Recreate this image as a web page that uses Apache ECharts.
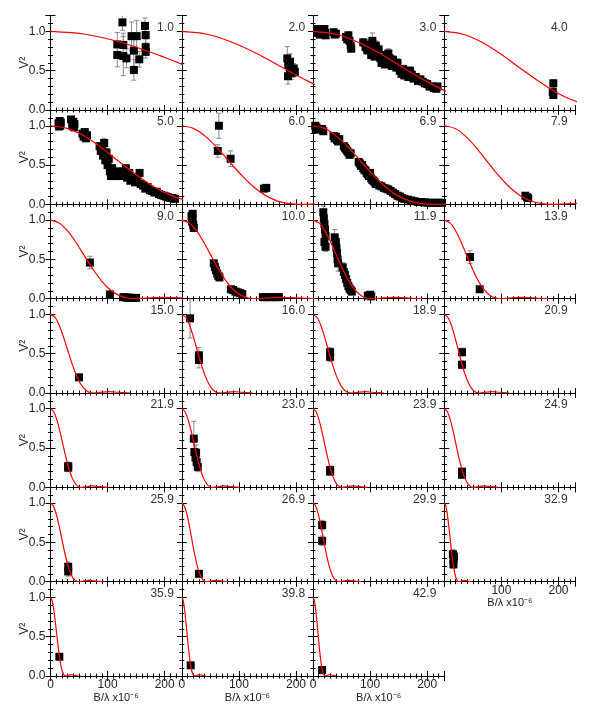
<!DOCTYPE html>
<html><head><meta charset="utf-8">
<script src="https://cdn.jsdelivr.net/npm/echarts@6/dist/echarts.min.js"></script>
<style>html,body{margin:0;padding:0;background:#fff}#c{width:591px;height:709px}</style>
</head><body><div id="c"></div>
<script>
const panelLabels = ['1.0','2.0','3.0','4.0','5.0','6.0','6.9','7.9','9.0','10.0','11.9','13.9','15.0','16.0','18.9','20.9','21.9','23.0','23.9','24.9','25.9','26.9','29.9','32.9','35.9','39.8','42.9'];
const xTicks = [0, 100, 200];
const yTicks = [0.0, 0.5, 1.0];

// model curve: V^2 levels and the B/lambda positions (read per panel) where the curve passes them
const curveLevels = [1, 0.964, 0.862, 0.712, 0.538, 0.368, 0.221, 0.111, 0.042, 0.0085, 0, 0.0102, 0.0175, 0.0097, 0];
const curveX = [
  [0,61,123,184,245],
  [0,44,88,133,177,221,265],
  [0,40,79,119,158,198,238],
  [0,33,66,99,132,165,197,230,263],
  [0,30,61,91,121,152,182,212,242],
  [0,21,42,63,84,105,126,147,168,189,210,246],
  [0,21,42,64,85,106,127,148,170,191,212,248],
  [0,19,38,57,76,95,114,133,152,171,190,222,255],
  [0,15,30,45,60,75,90,105,120,135,150,176,201,233],
  [0,13,26,39,52,65,78,91,104,117,130,152,174,202,238],
  [0,10.5,21,31.5,42,52.5,63,73.5,84,94.5,105,123,141,163,192],
  [0,10,20,30,40,50,60,70,80,90,100,117,134,155,183],
  [0,7.6,15.2,22.8,30.4,38,45.6,53.2,60.8,68.4,76,89,102,118,139],
  [0,6.8,13.6,20.4,27.2,34,40.8,47.6,54.4,61.2,68,79.6,91,105,124],
  [0,6.8,13.6,20.4,27.2,34,40.8,47.6,54.4,61.2,68,79.6,91,105,124],
  [0,6.2,12.4,18.6,24.8,31,37.2,43.4,49.6,55.8,62,72.5,83,96,113.5],
  [0,5.5,11,16.5,22,27.5,33,38.5,44,49.5,55,64.4,73.7,85.3,100.7],
  [0,5.5,11,16.5,22,27.5,33,38.5,44,49.5,55,64.4,73.7,85.3,100.7],
  [0,5.2,10.4,15.6,20.8,26,31.2,36.4,41.6,46.8,52,60.8,69.7,80.6,95.2],
  [0,5.2,10.4,15.6,20.8,26,31.2,36.4,41.6,46.8,52,60.8,69.7,80.6,95.2],
  [0,5,10,15,20,25,30,35,40,45,50,58.5,67,77.5,91.5],
  [0,4.4,8.8,13.2,17.6,22,26.4,30.8,35.2,39.6,44,51.5,59,68.2,80.5],
  [0,4.6,9.2,13.8,18.4,23,27.6,32.2,36.8,41.4,46,53.8,61.6,71.3,84.2],
  [0,2.6,5.2,7.8,10.4,13,15.6,18.2,20.8,23.4,26,30.4,34.8,40.3,47.6],
  [0,2.7,5.4,8.1,10.8,13.5,16.2,18.9,21.6,24.3,27,31.6,36.2,41.9,49.4],
  [0,2.3,4.6,6.9,9.2,11.5,13.8,16.1,18.4,20.7,23,26.9,30.8,35.7,42.1],
  [0,2.2,4.4,6.6,8.8,11,13.2,15.4,17.6,19.8,22,25.7,29.5,34.1,40.3]
];

// measured points: [B/lambda, V^2, error]
const p1 = [[117,0.835,0.15],[117,0.70,0.15],[126,1.115,0.1],[127.5,0.827,0.15],[127.5,0.687,0.25],[133,0.658,0.12],[142,0.94,0.18],[146,0.755,0.2],[146,0.51,0.13],[151,0.94,0.2],[155.5,0.645,0.1],[165.5,1.07,0.1],[166.7,0.954,0.1],[166.7,0.8,0.1],[166.7,0.74,0.08]];
const p2 = [[184.8,0.657,0.15],[186.5,0.572,0.12],[189.5,0.615,0.1],[189.5,0.51,0.1],[192,0.467,0.08],[196,0.53,0.06],[198,0.487,0.06],[186,0.43,0.1]];
const p3 = [[8,1.03,0.04],[9,0.98,0.04],[10,1.0,0.04],[12,0.96,0.03],[20,1.03,0.04],[21,0.98,0.03],[22,0.95,0.03],[36,0.99,0.03],[38,0.96,0.03],[40,0.97,0.03],[58,0.93,0.04],[60,0.9,0.04],[62,0.95,0.05],[64,0.88,0.04],[66,0.82,0.04],[67,0.78,0.04],[88,0.86,0.05],[92,0.8,0.04],[95,0.76,0.05],[98,0.83,0.06],[100,0.78,0.05],[102,0.7,0.05],[104,0.88,0.1],[106,0.74,0.05],[108,0.68,0.04],[110,0.82,0.06],[112,0.72,0.05],[115,0.77,0.06],[118,0.66,0.04],[120,0.6,0.04],[122,0.63,0.04],[126,0.58,0.04],[128,0.7,0.05],[132,0.72,0.06],[134,0.66,0.05],[136,0.6,0.05],[138,0.56,0.04],[140,0.64,0.05],[143,0.58,0.04],[146,0.54,0.04],[148,0.6,0.05],[152,0.5,0.04],[155,0.46,0.04],[158,0.52,0.05],[160,0.44,0.04],[164,0.46,0.04],[167,0.42,0.04],[170,0.5,0.05],[173,0.45,0.04],[176,0.4,0.04],[180,0.42,0.04],[184,0.37,0.03],[188,0.39,0.04],[192,0.36,0.03],[196,0.34,0.03],[200,0.33,0.03],[204,0.3,0.03],[208,0.3,0.03],[212,0.28,0.03],[216,0.27,0.03],[218,0.3,0.04]];
const p4 = [[191,0.34,0.05],[190,0.23,0.05],[191,0.19,0.04]];
const p5 = [[14,1.03,0.03],[15,0.99,0.03],[16,1.06,0.03],[17,1.0,0.03],[18,1.04,0.03],[36,1.08,0.03],[38,1.0,0.03],[40,1.05,0.03],[41,0.98,0.03],[42,1.02,0.03],[56,0.9,0.03],[58,0.86,0.03],[60,0.92,0.03],[62,0.84,0.03],[64,0.88,0.03],[86,0.74,0.04],[88,0.68,0.04],[90,0.7,0.04],[92,0.62,0.04],[94,0.78,0.06],[96,0.56,0.04],[98,0.66,0.05],[100,0.5,0.04],[102,0.58,0.04],[104,0.42,0.04],[106,0.36,0.04],[108,0.46,0.04],[110,0.4,0.04],[112,0.36,0.03],[116,0.42,0.04],[120,0.38,0.03],[124,0.36,0.03],[128,0.42,0.04],[132,0.46,0.04],[134,0.34,0.03],[138,0.4,0.04],[140,0.3,0.03],[144,0.34,0.03],[148,0.28,0.03],[152,0.3,0.03],[156,0.4,0.04],[158,0.26,0.03],[162,0.24,0.03],[166,0.2,0.03],[170,0.22,0.03],[174,0.18,0.03],[178,0.17,0.02],[182,0.15,0.02],[186,0.16,0.02],[190,0.13,0.02],[194,0.12,0.02],[198,0.11,0.02],[202,0.1,0.02],[206,0.09,0.02],[210,0.08,0.02],[214,0.08,0.02],[218,0.07,0.02]];
const p6 = [[65,1.0,0.16],[63,0.68,0.08],[85.5,0.58,0.1],[144,0.2,0.02],[148,0.21,0.02]];
const p7 = [[4,1.0,0.03],[5,0.96,0.03],[6,0.98,0.03],[8,0.95,0.03],[16,0.96,0.03],[18,0.93,0.03],[36,0.87,0.03],[38,0.84,0.03],[40,0.86,0.03],[42,0.82,0.03],[44,0.8,0.03],[46,0.83,0.03],[54,0.74,0.03],[56,0.72,0.03],[58,0.7,0.03],[60,0.68,0.03],[62,0.66,0.03],[64,0.63,0.03],[66,0.65,0.03],[80,0.54,0.03],[82,0.52,0.03],[84,0.49,0.03],[86,0.5,0.03],[88,0.46,0.03],[90,0.44,0.03],[92,0.43,0.03],[94,0.4,0.03],[96,0.38,0.03],[98,0.36,0.03],[100,0.4,0.03],[102,0.33,0.03],[104,0.31,0.03],[106,0.3,0.03],[108,0.28,0.02],[110,0.26,0.02],[116,0.24,0.02],[120,0.23,0.02],[124,0.21,0.02],[128,0.2,0.02],[132,0.19,0.02],[136,0.17,0.02],[140,0.15,0.02],[144,0.13,0.02],[148,0.11,0.02],[152,0.1,0.02],[156,0.08,0.02],[160,0.07,0.02],[166,0.06,0.02],[172,0.05,0.01],[178,0.04,0.01],[184,0.03,0.01],[190,0.03,0.01],[196,0.025,0.01],[202,0.02,0.01],[208,0.02,0.01],[214,0.02,0.01],[220,0.02,0.01],[226,0.02,0.01]];
const p8 = [[142,0.11,0.02],[145,0.09,0.02],[147,0.08,0.02]];
const p9 = [[69,0.46,0.08],[104,0.055,0.02],[128,0.02,0.01],[132,0.015,0.01],[136,0.015,0.01],[140,0.01,0.01],[145,0.01,0.01],[150,0.01,0.01]];
const p10 = [[17,1.05,0.04],[18,0.98,0.04],[19,1.02,0.04],[20,0.94,0.04],[21,0.9,0.04],[19,1.08,0.04],[56,0.45,0.03],[58,0.4,0.03],[60,0.36,0.03],[62,0.32,0.03],[64,0.29,0.03],[66,0.27,0.03],[86,0.12,0.02],[90,0.11,0.02],[94,0.09,0.02],[98,0.08,0.02],[102,0.07,0.02],[106,0.06,0.02],[142,0.02,0.01],[148,0.02,0.01],[154,0.02,0.01],[160,0.02,0.01],[166,0.02,0.01],[170,0.02,0.01]];
const p11 = [[18,1.1,0.08],[19,1.02,0.1],[20,0.95,0.08],[21,0.88,0.1],[22,0.8,0.1],[20,0.72,0.08],[22,0.66,0.06],[38,0.78,0.1],[40,0.72,0.08],[41,0.65,0.1],[42,0.58,0.08],[43,0.5,0.06],[44,0.45,0.1],[52,0.4,0.06],[54,0.34,0.05],[56,0.3,0.05],[58,0.25,0.04],[60,0.2,0.04],[62,0.16,0.04],[64,0.13,0.03],[66,0.11,0.03],[68,0.09,0.03],[96,0.04,0.02],[100,0.05,0.02],[102,0.03,0.02]];
const p12 = [[45,0.53,0.08],[62,0.12,0.03]];
const p13 = [[50,0.2,0.03]];
const p14 = [[14.5,0.95,0.25],[30,0.48,0.1],[30,0.42,0.1]];
const p15 = [[30,0.52,0.06],[30,0.46,0.06]];
const p16 = [[31,0.52,0.05],[31,0.36,0.05]];
const p17 = [[31,0.27,0.05],[31,0.25,0.05]];
const p18 = [[21,0.62,0.22],[22,0.45,0.12],[24,0.38,0.1],[26,0.32,0.08],[28,0.26,0.06],[25,0.44,0.1]];
const p19 = [[30,0.22,0.05],[30,0.2,0.04]];
const p20 = [[31,0.2,0.04],[31,0.16,0.04]];
const p21 = [[31,0.19,0.06],[31,0.13,0.06]];
const p22 = [[30,0.1,0.03]];
const p23 = [[16,0.72,0.06],[16,0.52,0.06]];
const p24 = [[15,0.35,0.06],[16,0.28,0.06],[16,0.22,0.05],[17,0.32,0.05]];
const p25 = [[15.5,0.245,0.03]];
const p26 = [[15.6,0.136,0.03]];
const p27 = [[16,0.076,0.03]];
const panelPoints = [p1,p2,p3,p4,p5,p6,p7,p8,p9,p10,p11,p12,p13,p14,p15,p16,p17,p18,p19,p20,p21,p22,p23,p24,p25,p26,p27];

const FONT = 'Liberation Sans';
const colLeft = [50.5, 181.8, 313, 444.3];
const panelW = 131.3, panelH = 94.33, top0 = 15.7;
const xLabelPanels = [23, 24, 25, 26];

const grids = [], xAxes = [], yAxes = [], series = [], titles = [];
const axisLine = {show: true, lineStyle: {color: '#000', width: 1}};

for (let i = 0; i < panelLabels.length; i++) {
  const r = Math.floor(i / 4), c = i % 4;
  const left = colLeft[c], top = top0 + r * panelH;
  grids.push({left: left, top: top, width: panelW, height: panelH, containLabel: false});
  const showX = xLabelPanels.indexOf(i) >= 0;
  const baseX = {
    type: 'value', gridIndex: i, min: 0, max: 230, interval: 100,
    axisLine: axisLine,
    axisTick: {show: true, inside: true, length: 5, lineStyle: {color: '#000'}},
    minorTick: {show: true, splitNumber: 10, length: 2.5, lineStyle: {color: '#000'}},
    splitLine: {show: false}, minorSplitLine: {show: false}
  };
  xAxes.push(Object.assign({}, baseX, {
    position: 'bottom',
    axisLabel: {show: showX, color: '#222', fontFamily: FONT, fontSize: 12, margin: 3,
      showMinLabel: i !== 23,
      formatter: v => (xTicks.indexOf(v) >= 0 ? String(v) : '')},
    name: showX ? 'B/λ x10⁻⁶' : '', nameLocation: 'middle', nameGap: 16, nameMoveOverlap: false,
    nameTextStyle: {color: '#222', fontFamily: FONT, fontSize: 11}
  }));
  xAxes.push(Object.assign({}, baseX, {position: 'top', axisLabel: {show: false}}));
  const baseY = {
    type: 'value', gridIndex: i, min: 0, max: 1.2, interval: 0.5,
    axisLine: axisLine,
    axisTick: {show: true, inside: true, length: 5, lineStyle: {color: '#000'}},
    minorTick: {show: true, splitNumber: 5, length: 2.5, lineStyle: {color: '#000'}},
    splitLine: {show: false}, minorSplitLine: {show: false}
  };
  const showY = c === 0;
  yAxes.push(Object.assign({}, baseY, {
    position: 'left',
    axisLabel: {show: showY, color: '#222', fontFamily: FONT, fontSize: 12, margin: 5,
      formatter: v => (yTicks.indexOf(v) >= 0 ? v.toFixed(1) : '')},
    name: showY ? 'V²' : '', nameLocation: 'middle', nameRotate: 90, nameGap: 20, nameMoveOverlap: false,
    nameTextStyle: {color: '#222', fontFamily: FONT, fontSize: 12}
  }));
  yAxes.push(Object.assign({}, baseY, {position: 'right', axisLabel: {show: false}}));

  titles.push({
    text: panelLabels[i], right: 591 - (left + panelW) + 8, top: top + 6, padding: 0,
    textStyle: {fontFamily: FONT, fontSize: 12, fontWeight: 'normal', color: '#333'}
  });

  const pts = panelPoints[i];
  series.push({
    type: 'custom', xAxisIndex: 2 * i, yAxisIndex: 2 * i, data: pts, z: 2,
    renderItem: function (params, api) {
      const x = api.value(0), y = api.value(1), e = api.value(2);
      const a = api.coord([x, y + e]), b = api.coord([x, y - e]);
      const cs = params.coordSys;
      const clip = {x: cs.x, y: cs.y, width: cs.width, height: cs.height};
      const st = {stroke: '#8a8a8a', lineWidth: 1};
      return {type: 'group', clipPath: {type: 'rect', shape: clip}, children: [
        {type: 'line', shape: {x1: a[0], y1: a[1], x2: b[0], y2: b[1]}, style: st},
        {type: 'line', shape: {x1: a[0] - 2.5, y1: a[1], x2: a[0] + 2.5, y2: a[1]}, style: st},
        {type: 'line', shape: {x1: b[0] - 2.5, y1: b[1], x2: b[0] + 2.5, y2: b[1]}, style: st}
      ]};
    }
  });
  series.push({
    type: 'scatter', xAxisIndex: 2 * i, yAxisIndex: 2 * i, z: 3,
    data: pts.map(p => [p[0], p[1]]),
    symbol: 'rect', symbolSize: 8, itemStyle: {color: '#000', opacity: 1}
  });
  series.push({
    type: 'line', xAxisIndex: 2 * i, yAxisIndex: 2 * i, z: 4,
    data: curveX[i].map((x, k) => [x, curveLevels[k]]),
    smooth: 0.3, showSymbol: false, symbol: 'none', clip: true,
    lineStyle: {color: '#ff0000', width: 1.2}
  });
}

const chart = echarts.init(document.getElementById('c'), null, {renderer: 'canvas'});
chart.setOption({
  animation: false, backgroundColor: '#fff',
  title: titles, grid: grids, xAxis: xAxes, yAxis: yAxes, series: series
});
</script>
</body></html>
